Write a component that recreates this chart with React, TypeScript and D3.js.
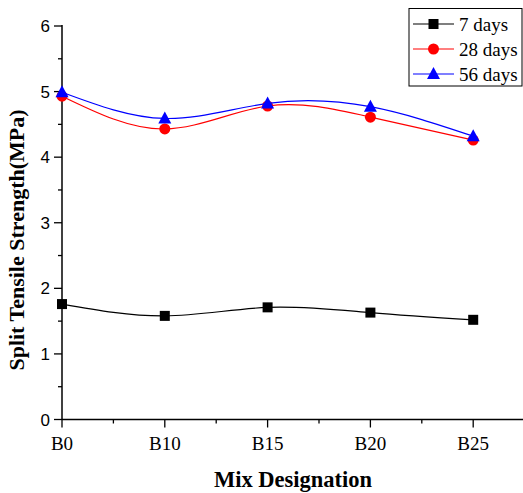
import React from "react";
import * as d3 from "d3";

const categories = ["B0", "B10", "B15", "B20", "B25"];
const days7 = [1.76, 1.58, 1.71, 1.63, 1.52];
const days28 = [4.93, 4.43, 4.78, 4.61, 4.26];
const days56 = [4.99, 4.59, 4.82, 4.77, 4.32];
const yTicks = [0, 1, 2, 3, 4, 5, 6];
const seriesNames = ["7 days", "28 days", "56 days"];

const W = 523, H = 493;
const left = 62, right = 524.6, top = 26, bottom = 419.5;

export default function App() {
  const x = d3.scaleLinear().domain([0, 4.5]).range([left, right]);
  const y = d3.scaleLinear().domain([0, 6]).range([bottom, top]);
  const line = d3.line<number>().x((_, i) => x(i)).y(d => y(d)).curve(d3.curveNatural);
  const series = [
    { name: seriesNames[0], data: days7, color: "#000000", shape: "square" },
    { name: seriesNames[1], data: days28, color: "#ff0000", shape: "circle" },
    { name: seriesNames[2], data: days56, color: "#0000ff", shape: "triangle" },
  ];
  const marker = (shape: string, cx: number, cy: number, color: string, key: any) => {
    if (shape === "square") return <rect key={key} x={cx - 5} y={cy - 5} width={10} height={10} fill={color} />;
    if (shape === "circle") return <circle key={key} cx={cx} cy={cy} r={5.5} fill={color} />;
    return <path key={key} d={`M${cx},${cy - 7}L${cx + 6.5},${cy + 5}L${cx - 6.5},${cy + 5}Z`} fill={color} />;
  };
  const minorY = d3.range(0.5, 6, 1);
  const minorX = d3.range(0.5, 4.5, 1);
  const serif = "Liberation Serif, Times New Roman, serif";
  return (
    <svg width={W} height={H} style={{ position: "absolute", left: 0, top: 0 }}>
      <rect width={W} height={H} fill="#fff" />
      {/* axes */}
      <line x1={left} x2={left} y1={top - 1} y2={bottom} stroke="#000" strokeWidth={1.5} />
      <line x1={left} x2={W} y1={bottom} y2={bottom} stroke="#000" strokeWidth={1.5} />
      {yTicks.map(t => (
        <g key={"yt" + t}>
          <line x1={left - 8} x2={left} y1={y(t)} y2={y(t)} stroke="#000" strokeWidth={1.3} />
          <text x={left - 12} y={y(t) + 6} textAnchor="end" fontFamily="Liberation Sans, Arial" fontSize={17}>{t}</text>
        </g>
      ))}
      {minorY.map(t => (
        <line key={"ym" + t} x1={left - 4} x2={left} y1={y(t)} y2={y(t)} stroke="#000" strokeWidth={1.3} />
      ))}
      {categories.map((c, i) => (
        <g key={"xt" + c}>
          <line x1={x(i)} x2={x(i)} y1={bottom} y2={bottom + 8} stroke="#000" strokeWidth={1.3} />
          <text x={x(i)} y={450} textAnchor="middle" fontFamily={serif} fontSize={19}>{c}</text>
        </g>
      ))}
      {minorX.map(t => (
        <line key={"xm" + t} x1={x(t)} x2={x(t)} y1={bottom} y2={bottom + 4} stroke="#000" strokeWidth={1.3} />
      ))}
      {/* series */}
      {series.map(s => (
        <g key={s.name}>
          <path d={line(s.data) || ""} fill="none" stroke={s.color} strokeWidth={1.2} />
          {s.data.map((v, i) => marker(s.shape, x(i), y(v), s.color, s.name + i))}
        </g>
      ))}
      {/* axis titles */}
      <text x={293} y={487} textAnchor="middle" fontFamily={serif} fontWeight="bold" fontSize={22.5}>Mix Designation</text>
      <text transform={`translate(24,240) rotate(-90)`} textAnchor="middle" fontFamily={serif} fontWeight="bold" fontSize={22}>Split Tensile Strength(MPa)</text>
      {/* legend */}
      <rect x={409} y={8.5} width={113} height={77.5} fill="#fff" stroke="#000" strokeWidth={1} />
      {series.map((s, i) => {
        const ly = 24 + i * 25;
        return (
          <g key={"lg" + s.name}>
            <line x1={413} x2={454} y1={ly} y2={ly} stroke={s.color} strokeWidth={1.2} />
            {marker(s.shape, 433.5, ly, s.color, "lm" + i)}
            <text x={459} y={ly + 6.5} fontFamily={serif} fontSize={19}>{s.name}</text>
          </g>
        );
      })}
    </svg>
  );
}
